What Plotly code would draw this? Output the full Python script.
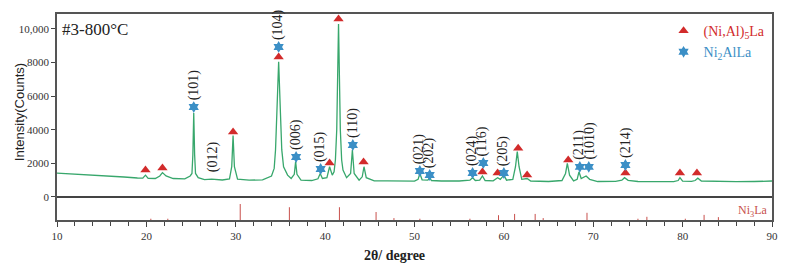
import plotly.graph_objects as go

# ---- XRD pattern (2theta in degrees, counts) ----
two_theta = [10.0, 11.5, 13.0, 14.5, 16.0, 17.5, 19.0, 19.6, 19.9, 20.2, 21.0, 21.5, 21.8, 22.2,
             23.0, 24.3, 24.9, 25.1, 25.2, 25.3, 25.4, 25.5, 25.8, 26.5, 27.3, 28.5, 29.3, 29.55,
             29.7, 29.85, 30.2, 31.5, 33.0, 34.0, 34.3, 34.45, 34.6, 34.8, 35.0, 35.15, 35.35,
             35.8, 36.2, 36.55, 36.7, 36.85, 37.3, 38.5, 39.2, 39.45, 39.7, 40.2, 40.5, 40.8,
             41.0, 41.15, 41.3, 41.5, 41.7, 41.85, 42.0, 42.4, 42.85, 43.05, 43.25, 43.8, 44.15,
             44.35, 44.6, 45.5, 47.0, 48.5, 50.0, 50.4, 50.6, 50.85, 51.5, 51.7, 51.9, 53.0,
             55.0, 56.2, 56.5, 56.8, 57.3, 57.6, 57.9, 58.8, 59.3, 59.6, 60.0, 60.3, 61.0, 61.3,
             61.5, 61.7, 62.0, 62.6, 63.0, 65.0, 66.5, 66.9, 67.1, 67.35, 67.8, 68.2, 68.4,
             68.65, 69.2, 69.6, 70.5, 72.5, 73.2, 73.5, 73.9, 75.0, 77.0, 79.0, 79.5, 79.7,
             80.0, 81.0, 81.4, 81.7, 82.1, 84.0, 86.0, 88.0, 90.0]
counts = [1420, 1380, 1330, 1290, 1240, 1190, 1130, 1120, 1300, 1110, 1100, 1250, 1450, 1250,
          1100, 1080, 1250, 1400, 2500, 5000, 2500, 1400, 1150, 1030, 1060, 1010, 1080, 1800,
          3650, 1800, 1060, 1000, 1020, 1250, 1700, 2800, 5000, 8050, 5000, 2800, 1800,
          1300, 1100, 1350, 2100, 1350, 1000, 980, 1080, 1400, 1100, 1150, 1800, 1300,
          1500, 2200, 4000, 10300, 4000, 2200, 1600, 1150, 1400, 2800, 1400, 1000, 1200,
          1800, 1150, 960, 960, 950, 940, 1050, 1400, 1020, 1000, 1150, 980, 950,
          950, 1000, 1150, 980, 1000, 1250, 980, 960, 1150, 1050, 1300, 1000, 1050, 1800,
          2700, 1800, 1050, 1100, 950, 920, 980, 1400, 2000, 1300, 960, 1050, 1500,
          1100, 1250, 1050, 920, 930, 1000, 1150, 990, 920, 910, 910, 980, 1150,
          940, 930, 980, 1120, 950, 920, 910, 920, 950]

# ---- phase markers ----
tri_x = [19.9, 21.8, 29.7, 34.8, 40.5, 41.5, 44.3, 57.6, 59.3, 61.6, 62.6, 67.2, 73.6, 79.7, 81.6]
tri_y = [1600, 1720, 3870, 8330, 2020, 10590, 2080, 1490, 1430, 2900, 1310, 2200, 1430, 1430, 1430]
star_x = [25.3, 34.8, 36.75, 39.5, 43.1, 50.6, 51.7, 56.5, 57.7, 60.0, 68.5, 69.5, 73.6]
star_y = [5350, 8930, 2380, 1670, 3090, 1550, 1310, 1430, 2020, 1430, 1790, 1790, 1900]

# ---- hkl labels (anchor = marker / peak position) ----
hkl = ["(101)", "(012)", "(104)", "(006)", "(015)", "(110)", "(021)", "(202)", "(024)",
       "(116)", "(205)", "(211)", "(1010)", "(214)"]
hkl_x = [25.3, 27.4, 34.8, 36.8, 39.5, 43.1, 50.6, 51.7, 56.5, 57.6, 60.0, 68.4, 69.6, 73.6]
hkl_y = [5350, 1060, 8930, 2380, 1670, 3090, 1550, 1310, 1430, 2020, 1430, 1790, 1790, 1900]

# ---- Ni3La reference sticks (relative intensity) ----
ref_x = [20.5, 22.4, 30.5, 36.0, 41.6, 45.7, 47.7, 50.6, 56.2, 59.4, 61.2, 63.5, 64.4,
         69.3, 75.0, 76.0, 80.3, 82.4, 84.0]
ref_i = [8, 8, 100, 80, 80, 50, 12, 8, 8, 30, 38, 38, 12, 45, 8, 20, 8, 32, 18]

y_ticks = [0, 2000, 4000, 6000, 8000, 10000]
y_ticklabels = ["0", "2000", "4000", "6000", "8000", "10,000"]

SERIF = "Liberation Serif, Times New Roman, serif"
RED = "#d22b2b"
BLUE = "#3b8fc6"
STICK = "#c8504c"

fig = go.Figure()

fig.add_trace(go.Scatter(x=two_theta, y=counts, mode="lines",
                         line=dict(color="#38a76c", width=1.3), showlegend=False,
                         hoverinfo="skip"))

sx, sy = [], []
for x, h in zip(ref_x, ref_i):
    sx += [x, x, None]
    sy += [0, h, None]
fig.add_trace(go.Scatter(x=sx, y=sy, mode="lines", yaxis="y2",
                         line=dict(color=STICK, width=1), showlegend=False,
                         hoverinfo="skip"))

fig.add_trace(go.Scatter(x=tri_x, y=tri_y, mode="markers",
                         marker=dict(symbol="triangle-up", size=9, color=RED),
                         name="<span style='color:%s'>(Ni,Al)<sub>5</sub>La</span>" % RED))
fig.add_trace(go.Scatter(x=star_x, y=star_y, mode="markers",
                         marker=dict(symbol="hexagram", size=9, color=BLUE),
                         name="<span style='color:%s'>Ni<sub>2</sub>AlLa</span>" % BLUE))

for t, x, y in zip(hkl, hkl_x, hkl_y):
    fig.add_annotation(x=x, y=y, text=t, textangle=-90, showarrow=False,
                       xanchor="center", yanchor="bottom", yshift=5,
                       font=dict(family=SERIF, size=14, color="#222"))

fig.add_annotation(x=0, y=1, xref="paper", yref="paper", text="#3-800°C",
                   showarrow=False, xanchor="left", yanchor="top", xshift=3, yshift=-4,
                   font=dict(family=SERIF, size=17, color="#222"))
fig.add_annotation(x=1, y=-830, xref="paper", yref="y", text="Ni<sub>3</sub>La",
                   showarrow=False, xanchor="right", yanchor="middle", xshift=-2,
                   font=dict(family=SERIF, size=12, color=STICK))
fig.add_annotation(x=47.8, y=-0.128, xref="x", yref="paper", text="<b>2θ/ degree</b>",
                   showarrow=False, xanchor="center", yanchor="top",
                   font=dict(family=SERIF, size=14, color="#222"))
fig.add_annotation(x=-0.053, y=0.524, xref="paper", yref="paper", text="Intensity(Counts)",
                   showarrow=False, textangle=-90, xanchor="center", yanchor="middle",
                   font=dict(family="Liberation Sans, Arial, sans-serif", size=13, color="#222"))

fig.update_layout(
    width=790, height=271,
    margin=dict(l=57, r=12, t=14, b=51),
    paper_bgcolor="white", plot_bgcolor="white",
    showlegend=True,
    legend=dict(x=0.998, y=0.995, xanchor="right", yanchor="top",
                bgcolor="rgba(0,0,0,0)", itemwidth=30, tracegroupgap=0,
                font=dict(family=SERIF, size=14), itemsizing="trace"),
    xaxis=dict(range=[10, 90], showgrid=False, zeroline=False,
               showline=True, mirror=True, linecolor="#555", linewidth=1.5,
               ticks="outside", ticklen=5, tickcolor="#444", dtick=10, tick0=10,
               minor=dict(ticks="outside", ticklen=4, dtick=2, tickcolor="#444"),
               tickfont=dict(family=SERIF, size=11, color="#333")),
    yaxis=dict(range=[-1370, 10890], showgrid=False,
               zeroline=True, zerolinecolor="#444", zerolinewidth=1.5,
               showline=True, mirror=True, linecolor="#555", linewidth=1.5,
               tickmode="array", tickvals=y_ticks, ticktext=y_ticklabels,
               ticks="outside", ticklen=4, tickcolor="#444",
               tickfont=dict(family=SERIF, size=11, color="#333")),
    yaxis2=dict(overlaying="y", range=[0, 1290], visible=False),
)

fig.write_html("out.html", config={"displayModeBar": False},
               post_script="document.body.style.margin='0';document.body.style.overflow='hidden';")
